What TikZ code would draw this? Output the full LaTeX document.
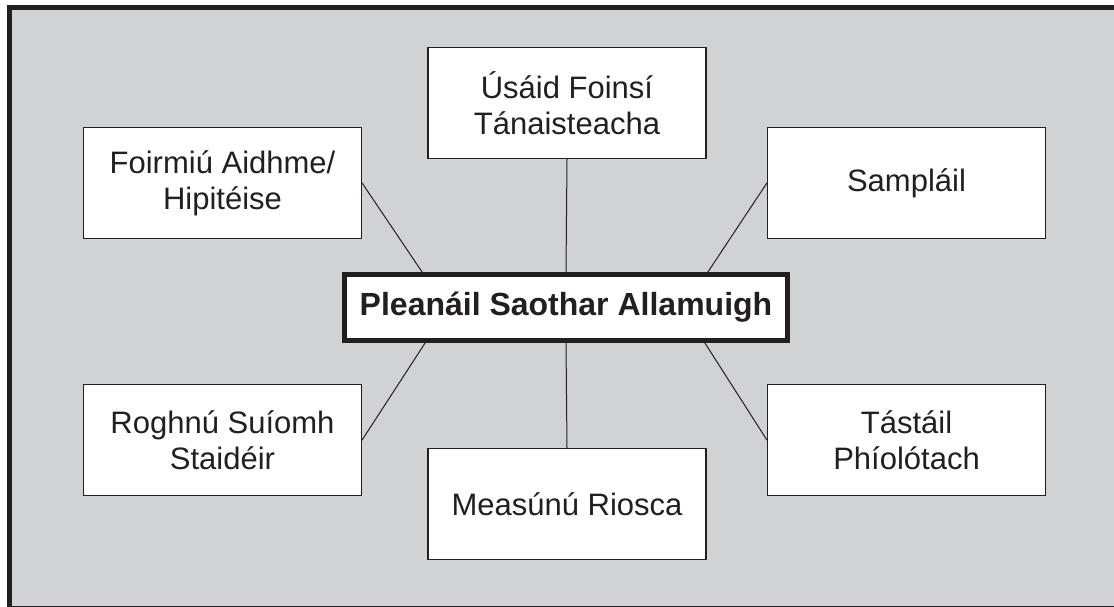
\documentclass[tikz,border=0pt]{standalone}
\usepackage{fontspec}
\setmainfont{Liberation Sans}
\definecolor{bggray}{HTML}{D1D2D4}
\definecolor{inkdark}{HTML}{231F20}
\begin{document}
\begin{tikzpicture}[
  x=1pt, y=-1pt,
  topic/.style={draw=inkdark, fill=white, line width=1.2pt, minimum width=278pt, minimum height=111pt,
    align=center, text=inkdark, font=\fontsize{31}{36}\selectfont},
  hub/.style={draw=inkdark, fill=white, line width=4.5pt, minimum width=443pt, minimum height=66pt,
    text=inkdark, font=\fontsize{32}{36}\selectfont\bfseries},
  link/.style={draw=inkdark, line width=1pt},
]
  \useasboundingbox (0,0) rectangle (1114,606);
  \clip (0,0) rectangle (1114,606);
  \fill[white] (0,0) rectangle (1114,606);
  \draw[inkdark, line width=5pt, fill=bggray] (9.5,7.5) rectangle (1120,608);

  \node[hub]   (plan)  at (566,307.5) {Pleanáil Saothar Allamuigh};
  \node[topic] (aidhm) at (222.5,183) {Foirmiú Aidhme/\\Hipitéise};
  \node[topic] (foins) at (567,103)   {Úsáid Foinsí\\Tánaisteacha};
  \node[topic] (sampl) at (906.5,183) {Sampláil};
  \node[topic] (suiom) at (222.5,440) {Roghnú Suíomh\\Staidéir};
  \node[topic] (riosc) at (567,504)   {Measúnú Riosca};
  \node[topic] (pilot) at (906.5,440) {Tástáil\\Phíolótach};

  \draw[link] (aidhm.east) -- ([xshift=80pt]plan.north west);
  \draw[link] (foins.south) -- (plan.north);
  \draw[link] (sampl.west) -- ([xshift=-82pt]plan.north east);
  \draw[link] (suiom.east) -- ([xshift=83pt]plan.south west);
  \draw[link] (riosc.north) -- (plan.south);
  \draw[link] (pilot.west) -- ([xshift=-85pt]plan.south east);
\end{tikzpicture}
\end{document}
